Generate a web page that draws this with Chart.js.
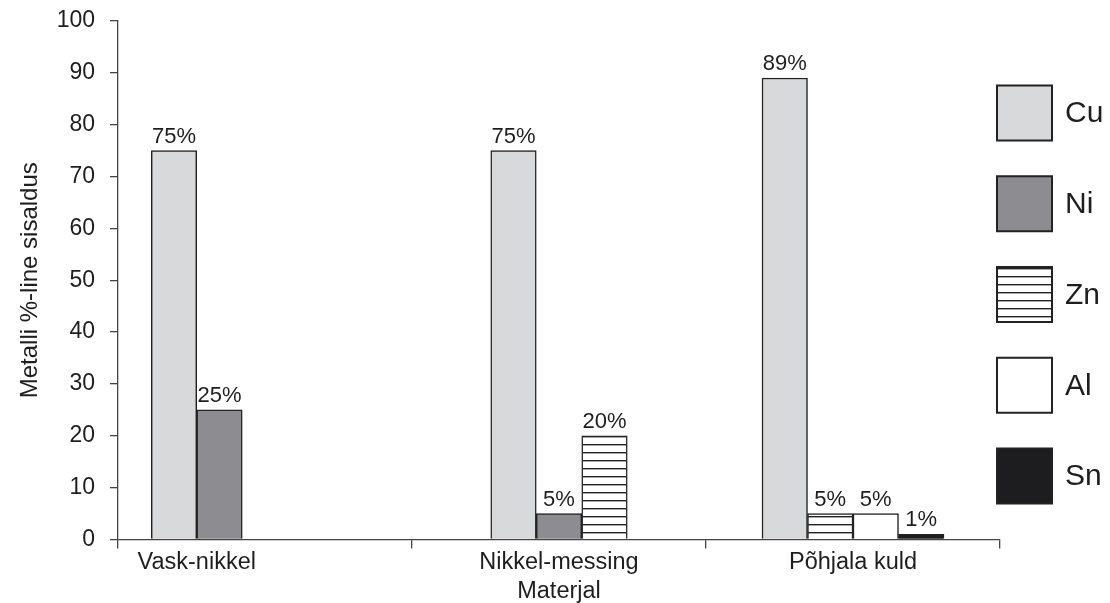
<!DOCTYPE html>
<html>
<head>
<meta charset="utf-8">
<title>Metallide sisaldus sulamites</title>
<script src="https://cdn.jsdelivr.net/npm/chart.js@4.4.1/dist/chart.umd.min.js"></script>
<style>
  html, body { margin: 0; padding: 0; overflow: hidden; background: #ffffff; }
  #wrap { position: relative; width: 1110px; height: 606px; }
</style>
</head>
<body>
<div id="wrap"><canvas id="c"></canvas></div>
<script>
// Alloys and their metal content (%)
const categories = ['Vask-nikkel', 'Nikkel-messing', 'Põhjala kuld'];
const metals = ['Cu', 'Ni', 'Zn', 'Al', 'Sn'];
const cu = [75, 75, 89];
const ni = [25, 5, null];
const zn = [0, 20, 5];
const al = [0, null, 5];
const sn = [0, null, 1];
const yMin = 0, yMax = 100, yStep = 10;

const FONT = "'Liberation Sans', Arial, Helvetica, sans-serif";
const INK = '#1e1e1e';
const EDGE = '#222222';

const canvas = document.getElementById('c');
const ctx = canvas.getContext('2d');

// Horizontal hatching used for zinc
function hatch() {
  const p = document.createElement('canvas');
  p.width = 8; p.height = 8;
  const g = p.getContext('2d');
  g.fillStyle = '#ffffff';
  g.fillRect(0, 0, 8, 8);
  g.fillStyle = EDGE;
  g.fillRect(0, 4, 8, 1.4);
  return ctx.createPattern(p, 'repeat');
}

const fills = ['#d8d9db', '#8d8c91', hatch(), '#ffffff', '#1d1d1f'];
const series = [cu, ni, zn, al, sn];

// Percent labels above each bar
const valueLabels = {
  id: 'valueLabels',
  afterDatasetsDraw(chart) {
    const c = chart.ctx;
    c.save();
    c.font = '22px ' + FONT;
    c.fillStyle = INK;
    c.textAlign = 'center';
    c.textBaseline = 'alphabetic';
    chart.data.datasets.forEach((ds, di) => {
      const meta = chart.getDatasetMeta(di);
      meta.data.forEach((bar, i) => {
        const v = ds.data[i];
        if (v === null || v === 0) return;
        c.fillText(v + '%', bar.x, bar.y - 8);
      });
    });
    c.restore();
  }
};

// Alloy names, centred under the group of bars that each alloy actually has
const groupLabels = {
  id: 'groupLabels',
  afterDraw(chart) {
    const c = chart.ctx;
    const y = chart.chartArea.bottom + 9 + 14;
    c.save();
    c.font = '23.5px ' + FONT;
    c.fillStyle = INK;
    c.textAlign = 'center';
    c.textBaseline = 'middle';
    chart.data.labels.forEach((name, i) => {
      let lo = Infinity, hi = -Infinity;
      chart.data.datasets.forEach((ds, di) => {
        const v = ds.data[i];
        if (v === null || v === 0) return;
        const bar = chart.getDatasetMeta(di).data[i];
        lo = Math.min(lo, bar.x - bar.width / 2);
        hi = Math.max(hi, bar.x + bar.width / 2);
      });
      c.fillText(name, (lo + hi) / 2, y);
    });
    c.restore();
  }
};

// Legend column with large square swatches
const swatchLegend = {
  id: 'swatchLegend',
  afterDraw(chart) {
    const c = chart.ctx;
    const x = chart.chartArea.right - 3;
    const size = 55;
    const top = 85.5;
    const step = 90.75;
    c.save();
    chart.data.datasets.forEach((ds, i) => {
      const y = top + i * step;
      c.fillStyle = ds.backgroundColor;
      c.fillRect(x, y, size, size);
      c.lineWidth = 2;
      c.strokeStyle = EDGE;
      c.strokeRect(x, y, size, size);
      c.font = '30px ' + FONT;
      c.fillStyle = INK;
      c.textAlign = 'left';
      c.textBaseline = 'middle';
      c.fillText(ds.label, x + size + 13, y + size / 2 + 1);
    });
    c.restore();
  }
};

new Chart(ctx, {
  type: 'bar',
  data: {
    labels: categories,
    datasets: metals.map((m, i) => ({
      label: m,
      data: series[i],
      backgroundColor: fills[i],
      borderColor: EDGE,
      borderWidth: 1.5
    }))
  },
  options: {
    responsive: true,
    maintainAspectRatio: false,
    animation: false,
    layout: { padding: { top: 21, right: 110, bottom: 0, left: 0 } },
    datasets: {
      bar: { barThickness: 45.5, skipNull: true }
    },
    plugins: {
      legend: { display: false },
      tooltip: { enabled: false }
    },
    scales: {
      x: {
        grid: { offset: true, drawOnChartArea: false, drawTicks: true, tickLength: 9, color: '#444', lineWidth: 1.3 },
        border: { color: '#444', width: 1.3 },
        ticks: { display: false },
        title: { display: true, text: 'Materjal', color: INK, font: { size: 23.5, family: FONT }, padding: { top: 1, bottom: 0 } },
        afterFit(s) { s.height = 66.5; }
      },
      y: {
        min: yMin,
        max: yMax,
        ticks: { stepSize: yStep, padding: 15, font: { size: 23, family: FONT }, color: INK },
        grid: { drawOnChartArea: false, drawTicks: true, tickLength: 8, color: '#444', lineWidth: 1.3 },
        border: { color: '#444', width: 1.3 },
        title: { display: true, text: 'Metalli %-line sisaldus', color: INK, font: { size: 24, family: FONT }, padding: { top: 16, bottom: 0 } },
        afterFit(s) {
          s.width = 118;
          s.paddingTop = 0;
          s.paddingBottom = 0;
        }
      }
    }
  },
  plugins: [valueLabels, groupLabels, swatchLegend]
});
</script>
</body>
</html>
